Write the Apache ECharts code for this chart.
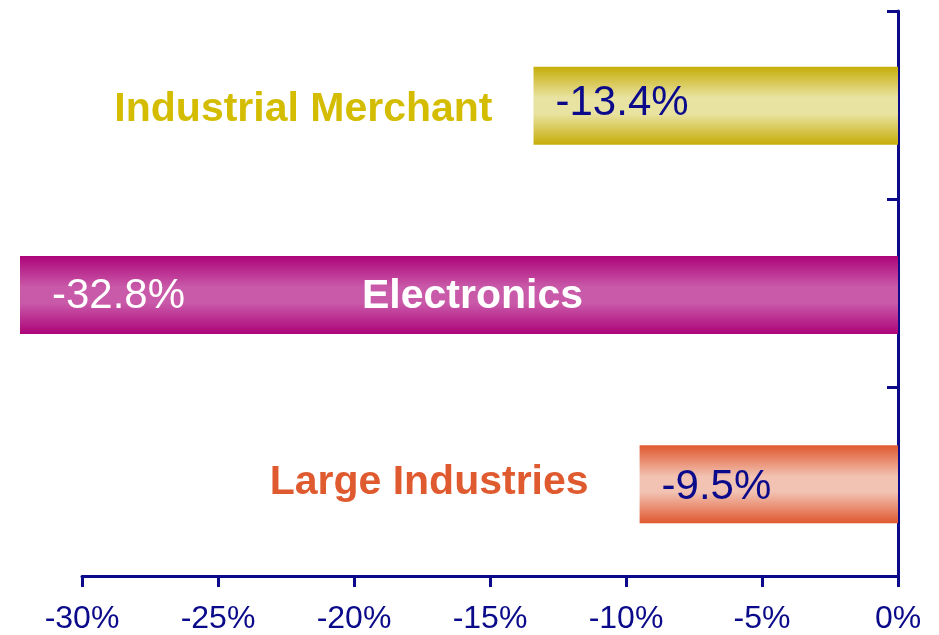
<!DOCTYPE html>
<html>
<head>
<meta charset="utf-8">
<script src="https://cdn.jsdelivr.net/npm/echarts@6/dist/echarts.min.js"></script>
<style>html,body{margin:0;padding:0;background:#fff}#c{width:939px;height:635px}</style>
</head>
<body>
<div id="c"></div>
<script>
var categories = ['Industrial Merchant', 'Electronics', 'Large Industries'];
var values = [-13.4, -32.8, -9.5];
var xTicks = [-30, -25, -20, -15, -10, -5, 0];

var FONT = '"Liberation Sans", Arial, sans-serif';
var NAVY = '#0a0a8a';
var styles = [
  {edge: '#c6ad08', mid: '#e9e3a2', valColor: NAVY, catColor: '#d4bd00', valDist: 22, valOffset: [0, -2], catPos: 'left', catDist: 41, catOffset: [0, 4]},
  {edge: '#ad0479', mid: '#c95aa9', valColor: '#ffffff', catColor: '#ffffff', valDist: 32, valOffset: [0, 1], catPos: 'insideRight', catDist: 315, catOffset: [0, 2]},
  {edge: '#e0582f', mid: '#f2c2b2', valColor: NAVY, catColor: '#e05a30', valDist: 22, valOffset: [0, 3], catPos: 'left', catDist: 51, catOffset: [0, -2]}
];

function grad(s) {
  return {type: 'linear', x: 0, y: 0, x2: 0, y2: 1, colorStops: [
    {offset: 0, color: s.edge}, {offset: 0.4, color: s.mid}, {offset: 0.6, color: s.mid}, {offset: 1, color: s.edge}
  ]};
}

var barData = values.map(function (v, i) {
  var s = styles[i];
  return {
    value: v,
    itemStyle: {color: grad(s)},
    label: {show: true, position: 'insideLeft', distance: s.valDist, offset: s.valOffset, color: s.valColor,
      fontSize: 42, fontFamily: FONT, formatter: v.toFixed(1) + '%'}
  };
});
var catData = values.map(function (v, i) {
  var s = styles[i];
  return {
    value: v,
    label: {show: true, position: s.catPos, distance: s.catDist, offset: s.catOffset, color: s.catColor,
      fontSize: 41, fontWeight: 'bold', fontFamily: FONT, formatter: categories[i]}
  };
});

var chart = echarts.init(document.getElementById('c'), null, {renderer: 'canvas'});
chart.setOption({
  animation: false,
  backgroundColor: '#ffffff',
  grid: [
    {left: 20, right: 41, top: 11, bottom: 56},
    {left: 82, right: 41, top: 11, bottom: 56}
  ],
  xAxis: [
    {type: 'value', gridIndex: 0, min: -32.28, max: 0, show: false},
    {type: 'value', gridIndex: 1, min: xTicks[0], max: xTicks[xTicks.length - 1], interval: 5,
      axisLine: {show: true, lineStyle: {color: NAVY, width: 3}},
      axisTick: {show: true, inside: false, length: 11, lineStyle: {color: NAVY, width: 3}},
      axisLabel: {color: NAVY, fontSize: 32, fontFamily: FONT, margin: 27, formatter: '{value}%'},
      splitLine: {show: false}}
  ],
  yAxis: [
    {type: 'category', gridIndex: 0, data: categories, inverse: true, show: false},
    {type: 'category', gridIndex: 1, data: categories, inverse: true, position: 'right',
      axisLine: {show: true, onZero: false, lineStyle: {color: NAVY, width: 3}},
      axisTick: {show: true, inside: true, length: 11, lineStyle: {color: NAVY, width: 3}},
      axisLabel: {show: false}, splitLine: {show: false}}
  ],
  series: [
    {type: 'bar', xAxisIndex: 0, yAxisIndex: 0, data: barData, barWidth: 78, z: 2, silent: true},
    {type: 'bar', xAxisIndex: 0, yAxisIndex: 0, data: catData, barWidth: 78, barGap: '-100%', z: 3,
      itemStyle: {color: 'rgba(0,0,0,0)'}, silent: true}
  ]
});
</script>
</body>
</html>
